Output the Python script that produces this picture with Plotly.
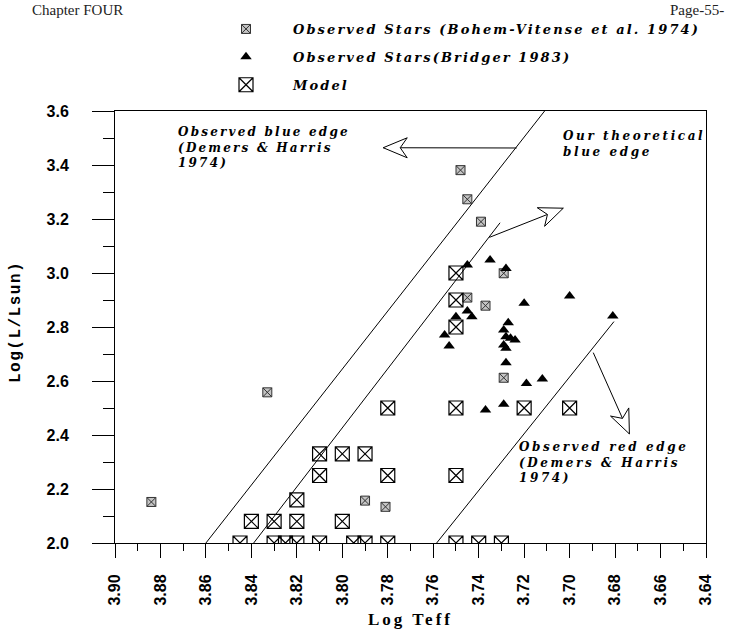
import math
import plotly.graph_objects as go

# ---------------- data ----------------
# Model (large boxed crosses)
model_logteff = [3.75, 3.75, 3.75,
                 3.78, 3.75, 3.72, 3.70,
                 3.81, 3.80, 3.79,
                 3.81, 3.78, 3.75,
                 3.82,
                 3.84, 3.83, 3.82, 3.80,
                 3.845, 3.83, 3.825, 3.82, 3.81, 3.795, 3.79, 3.78, 3.75, 3.74, 3.73]
model_logl = [3.00, 2.90, 2.80,
              2.50, 2.50, 2.50, 2.50,
              2.33, 2.33, 2.33,
              2.25, 2.25, 2.25,
              2.16,
              2.08, 2.08, 2.08, 2.08,
              2.00, 2.00, 2.00, 2.00, 2.00, 2.00, 2.00, 2.00, 2.00, 2.00, 2.00]

# Observed stars (Bohem-Vitense et al. 1974)
bv_logteff = [3.748, 3.745, 3.739, 3.729, 3.745, 3.737, 3.729, 3.833, 3.884, 3.790, 3.781]
bv_logl = [3.381, 3.273, 3.190, 2.999, 2.909, 2.879, 2.612, 2.558, 2.152, 2.157, 2.134]

# Observed stars (Bridger 1983)
br_logteff = [3.745, 3.735, 3.728, 3.720, 3.700, 3.681, 3.745, 3.743, 3.750, 3.755,
              3.753, 3.727, 3.729, 3.728, 3.726, 3.724, 3.729, 3.728, 3.728, 3.719,
              3.712, 3.737, 3.729]
br_logl = [3.030, 3.048, 3.017, 2.888, 2.915, 2.841, 2.859, 2.838, 2.838, 2.770,
           2.730, 2.816, 2.789, 2.764, 2.758, 2.752, 2.733, 2.721, 2.668, 2.591,
           2.607, 2.493, 2.514]

# Instability-strip edges
blue_obs_x = [3.860, 3.711]
blue_obs_y = [2.000, 3.600]
blue_theo_x = [3.839, 3.7306]
blue_theo_y = [2.000, 3.186]
red_obs_x = [3.7585, 3.6805]
red_obs_y = [2.000, 2.820]

# Arrows: (tail x, tail y) -> (tip x, tip y)
arrow_tail_x = [3.7233, 3.7353, 3.6896]
arrow_tail_y = [3.463, 3.132, 2.705]
arrow_tip_x = [3.7820, 3.7028, 3.6737]
arrow_tip_y = [3.464, 3.240, 2.404]

# Ticks
x_ticks = [3.90, 3.88, 3.86, 3.84, 3.82, 3.80, 3.78, 3.76, 3.74, 3.72, 3.70, 3.68, 3.66, 3.64]
x_tick_labels = ["3.90", "3.88", "3.86", "3.84", "3.82", "3.80", "3.78", "3.76",
                 "3.74", "3.72", "3.70", "3.68", "3.66", "3.64"]
y_ticks = [2.0, 2.2, 2.4, 2.6, 2.8, 3.0, 3.2, 3.4, 3.6]
y_tick_labels = ["2.0", "2.2", "2.4", "2.6", "2.8", "3.0", "3.2", "3.4", "3.6"]

# ---------------- layout geometry ----------------
W, H = 731, 632
ML, MR, MT, MB = 115, 25, 111, 89
X_RANGE = [3.90, 3.64]
Y_RANGE = [2.0, 3.6]
PW = W - ML - MR
PH = H - MT - MB
SX = PW / (X_RANGE[0] - X_RANGE[1])
SY = PH / (Y_RANGE[1] - Y_RANGE[0])


def paper_x(px):
    return (px - ML) / PW


def paper_y(py):
    return (H - MB - py) / PH


def spaced(text, ls):
    return f'<span style="letter-spacing:{ls}px">{text}</span>'


fig = go.Figure()

line_style = dict(color="black", width=1)
for ex, ey in [(blue_obs_x, blue_obs_y), (blue_theo_x, blue_theo_y), (red_obs_x, red_obs_y)]:
    fig.add_trace(go.Scatter(x=ex, y=ey, mode="lines", line=line_style,
                             showlegend=False, hoverinfo="skip"))

fig.add_trace(go.Scatter(
    x=bv_logteff, y=bv_logl, mode="markers", legendgroup="a",
    name=spaced("Observed Stars (Bohem-Vitense et al. 1974)", 2.1),
    marker=dict(symbol="square-x", size=9, color="#c4c4c4",
                line=dict(color="#333333", width=1))))
fig.add_trace(go.Scatter(
    x=br_logteff, y=br_logl, mode="markers", legendgroup="b",
    name=spaced("Observed Stars(Bridger 1983)", 2.1),
    marker=dict(symbol="triangle-up", size=10, color="black")))
fig.add_trace(go.Scatter(
    x=model_logteff, y=model_logl, mode="markers", legendgroup="c",
    name=spaced("Model", 2.1),
    marker=dict(symbol="square-x-open", size=14, color="black",
                line=dict(color="black", width=1.2))))

# Arrows (shaft + hollow head)
shapes = []
HEAD_L, HEAD_W, NOTCH = 24, 10, 7
for tx, ty, hx, hy in zip(arrow_tail_x, arrow_tail_y, arrow_tip_x, arrow_tip_y):
    shapes.append(dict(type="line", xref="x", yref="y", x0=tx, y0=ty, x1=hx, y1=hy,
                       line=dict(color="black", width=1)))
    dx = (hx - tx) * -SX
    dy = (hy - ty) * SY
    n = math.hypot(dx, dy)
    ux, uy = dx / n, dy / n
    nx, ny = -uy, ux
    pts = [(0, 0),
           (-HEAD_L * ux + HEAD_W * nx, -HEAD_L * uy + HEAD_W * ny),
           (-(HEAD_L - NOTCH) * ux, -(HEAD_L - NOTCH) * uy),
           (-HEAD_L * ux - HEAD_W * nx, -HEAD_L * uy - HEAD_W * ny)]
    path = "M " + " L ".join(f"{p[0]:.2f},{p[1]:.2f}" for p in pts) + " Z"
    shapes.append(dict(type="path", xref="x", yref="y", xsizemode="pixel", ysizemode="pixel",
                       xanchor=hx, yanchor=hy, path=path, fillcolor="white",
                       line=dict(color="black", width=1)))

label_font = dict(family="DejaVu Serif", size=12, color="black", weight="bold", style="italic")
annotations = [
    dict(text=spaced("Observed blue edge<br>(Demers &amp; Harris<br>1974)", 2.2),
         xref="paper", yref="paper", x=paper_x(176), y=paper_y(123),
         xanchor="left", yanchor="top", align="left", showarrow=False, font=label_font),
    dict(text=spaced("Our theoretical<br>blue edge", 2.6),
         xref="paper", yref="paper", x=paper_x(561), y=paper_y(127),
         xanchor="left", yanchor="top", align="left", showarrow=False, font=label_font),
    dict(text=spaced("Observed red edge<br>(Demers &amp; Harris<br>1974)", 2.6),
         xref="paper", yref="paper", x=paper_x(517), y=paper_y(438),
         xanchor="left", yanchor="top", align="left", showarrow=False, font=label_font),
    dict(text="Chapter FOUR", xref="paper", yref="paper", x=paper_x(30), y=paper_y(0),
         xanchor="left", yanchor="top", showarrow=False,
         font=dict(family="Liberation Serif", size=15, color="#222222")),
    dict(text="Page-55-", xref="paper", yref="paper", x=paper_x(726), y=paper_y(0),
         xanchor="right", yanchor="top", showarrow=False,
         font=dict(family="Liberation Serif", size=15, color="#222222")),
    # y-axis title
    dict(text=spaced("Log(L/Lsun)", 1.5), xref="paper", yref="paper",
         x=paper_x(16), y=paper_y(322), xanchor="center", yanchor="middle",
         textangle=-90, showarrow=False,
         font=dict(family="Liberation Mono", size=16, color="black", weight="bold")),
]

tick_font = dict(family="Liberation Sans", size=16, color="black", weight="bold")

fig.update_layout(
    width=W, height=H,
    margin=dict(l=ML, r=MR, t=MT, b=MB, autoexpand=False),
    paper_bgcolor="white", plot_bgcolor="white",
    showlegend=True,
    legend=dict(x=199 / W, xref="container", y=1 - 14 / H, yref="container",
                xanchor="left", yanchor="top", itemwidth=84,
                traceorder="grouped", tracegroupgap=8,
                bgcolor="rgba(0,0,0,0)",
                font=dict(family="DejaVu Serif", size=13, color="black",
                          weight="bold", style="italic")),
    xaxis=dict(range=X_RANGE, tickmode="array", tickvals=x_ticks, ticktext=x_tick_labels,
               tickangle=-90, ticks="outside", ticklen=14, tickwidth=1, tickcolor="black",
               minor=dict(dtick=0.01, tick0=3.64, ticks="outside", ticklen=7,
                          tickcolor="black", tickwidth=1),
               showline=True, mirror=True, linecolor="black", linewidth=1,
               showgrid=False, zeroline=False, tickfont=tick_font, ticklabelstandoff=10,
               title=dict(text=spaced("Log Teff", 3), standoff=8,
                          font=dict(family="Liberation Serif", size=17, color="black",
                                    weight="bold"))),
    yaxis=dict(range=Y_RANGE, tickmode="array", tickvals=y_ticks, ticktext=y_tick_labels,
               ticks="outside", ticklen=22, tickwidth=1, tickcolor="black",
               minor=dict(dtick=0.1, tick0=2.0, ticks="outside", ticklen=11,
                          tickcolor="black", tickwidth=1),
               showline=True, mirror=True, linecolor="black", linewidth=1,
               showgrid=False, zeroline=False, tickfont=tick_font, ticklabelstandoff=20),
    shapes=shapes,
    annotations=annotations,
)

fig.write_html("out.html")
